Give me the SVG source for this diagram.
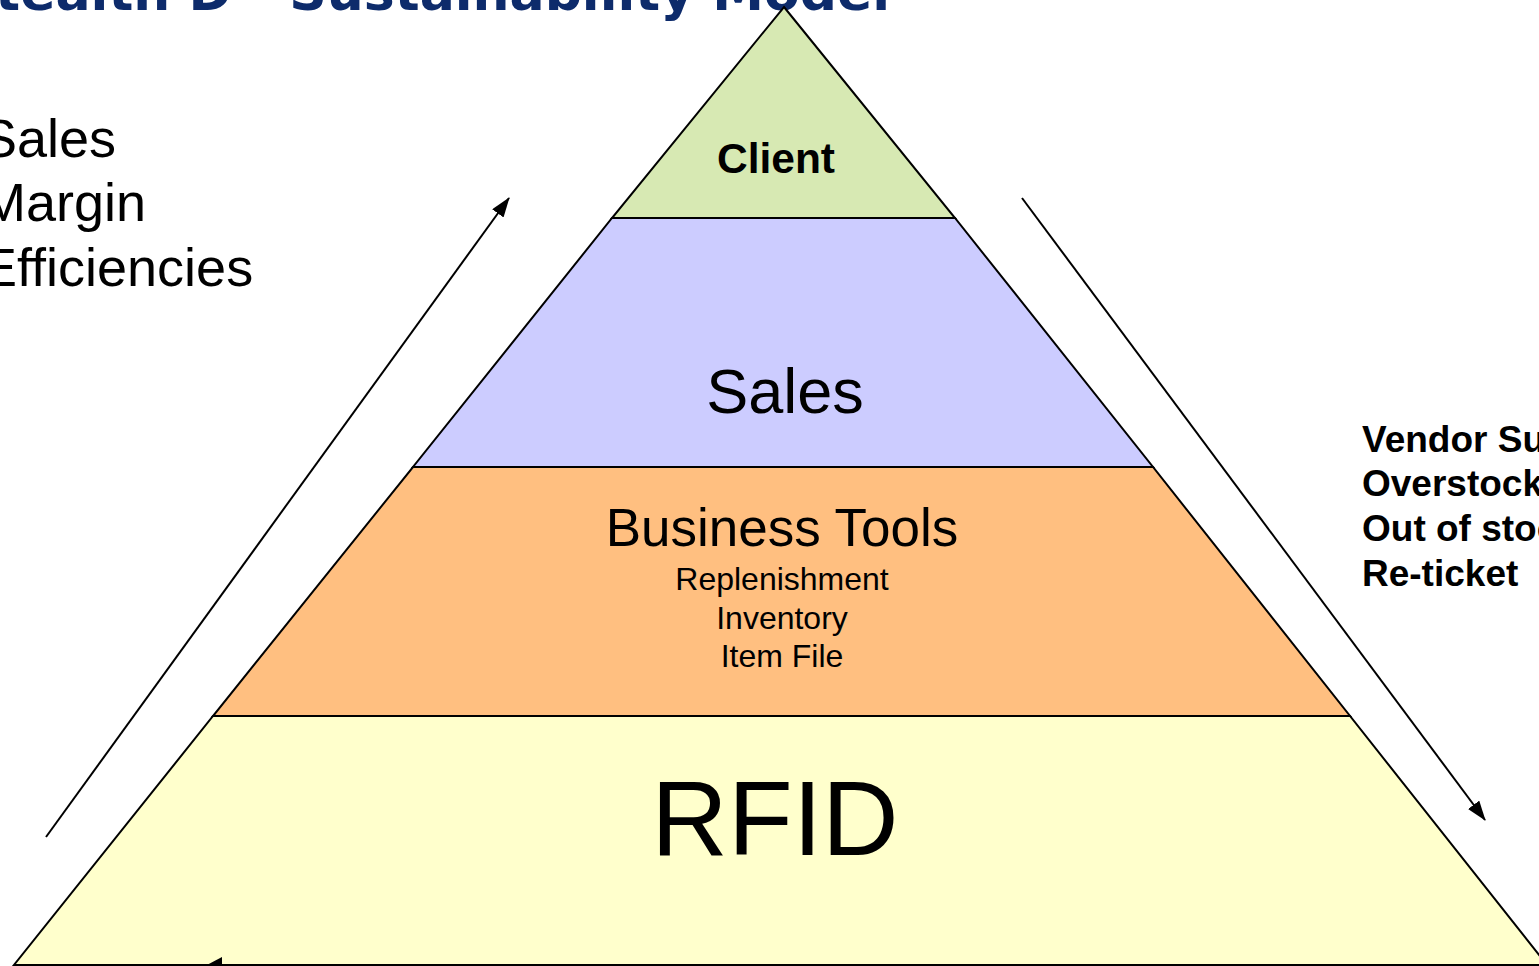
<svg xmlns="http://www.w3.org/2000/svg" width="1539" height="966" viewBox="0 0 1539 966">
<style>
.layer{stroke:#000;stroke-width:2;stroke-linejoin:miter}
.t{font-family:"Liberation Sans",Arial,sans-serif;fill:#000}
.b{font-weight:bold}
.title{font-family:"DejaVu Sans","Liberation Sans",sans-serif;font-weight:bold;fill:#0d2b6b}
.conn{stroke:#000;stroke-width:2;fill:none}
</style>
<defs>
<marker id="arrow" viewBox="0 0 20 14" refX="19" refY="7" markerWidth="20" markerHeight="14" markerUnits="userSpaceOnUse" orient="auto">
<path d="M0,0 L20,7 L0,14 Z" fill="#000"/>
</marker>
</defs>
<rect width="1539" height="966" fill="#fff"/>
<text class="title" x="890" y="10" font-size="52" text-anchor="end">Stealth D - Sustainability Model</text>

<g id="rfid">
<polygon class="layer" points="213,716 1350,716 1547,965 14,965" fill="#ffffcc"/>
<text class="t" x="775" y="855" font-size="106" text-anchor="middle">RFID</text>
</g>
<g id="business-tools">
<polygon class="layer" points="413,467 1153,467 1350,716 213,716" fill="#ffbf80"/>
<text class="t" x="782" y="546" font-size="53" text-anchor="middle">Business Tools</text>
<text class="t" x="782" y="590" font-size="32" text-anchor="middle">Replenishment</text>
<text class="t" x="782" y="629" font-size="32" text-anchor="middle">Inventory</text>
<text class="t" x="782" y="667" font-size="32" text-anchor="middle">Item File</text>
</g>
<g id="sales">
<polygon class="layer" points="612,218 955,218 1153,467 413,467" fill="#ccccff"/>
<text class="t" x="785" y="413" font-size="63" text-anchor="middle">Sales</text>
</g>
<g id="client">
<polygon class="layer" points="784,7 955,218 612,218" fill="#d7e9b3"/>
<text class="t b" x="776" y="173" font-size="42.5" text-anchor="middle">Client</text>
</g>

<g id="connectors">
<line class="conn" x1="46" y1="837" x2="509" y2="198" marker-end="url(#arrow)"/>
<line class="conn" x1="1022" y1="198" x2="1485" y2="820" marker-end="url(#arrow)"/>
<polygon points="205,966 222,957 222,966" fill="#000"/>
</g>

<g id="benefits">
<text class="t" x="-19" y="157" font-size="54">Sales</text>
<text class="t" x="-19" y="221" font-size="54">Margin</text>
<text class="t" x="-19" y="286" font-size="54">Efficiencies</text>
</g>
<g id="issues">
<text class="t b" x="1362" y="452" font-size="37">Vendor Support</text>
<text class="t b" x="1362" y="496" font-size="37">Overstock</text>
<text class="t b" x="1362" y="541" font-size="37">Out of stock</text>
<text class="t b" x="1362" y="586" font-size="37">Re-ticket</text>
</g>
</svg>
